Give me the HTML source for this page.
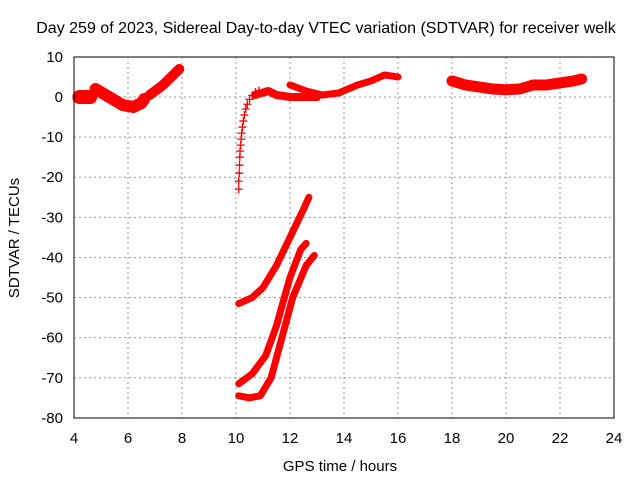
<!DOCTYPE html>
<html><head><meta charset="utf-8"><style>
body{margin:0;background:#fff;}
svg text{font-family:"Liberation Sans",sans-serif;font-size:15px;fill:#000;}
</style></head><body>
<svg id="c" width="640" height="480">
<text x="326" y="33" text-anchor="middle" style="font-size:16px">Day 259 of 2023, Sidereal Day-to-day VTEC variation (SDTVAR) for receiver welk</text>
<text x="340" y="471" text-anchor="middle">GPS time / hours</text>
<text transform="translate(19,238) rotate(-90)" text-anchor="middle">SDTVAR / TECUs</text>
<g id="grid"></g><g id="marks"></g>
<rect x="74" y="57" width="540" height="361" fill="none" stroke="#000"/>
</svg>
<script>
const xTicks=[4,6,8,10,12,14,16,18,20,22,24];
const yTicks=[10,0,-10,-20,-30,-40,-50,-60,-70,-80];
const seg1=[[4.2,0],[4.6,0]];
const seg2=[[4.8,2],[5.3,0],[5.8,-2],[6.2,-2.5],[6.5,-1.5],[6.6,-0.5]];
const seg3=[[6.8,0.5],[7.3,3],[7.9,7]];
const seg5=[[10.7,0.5],[11.2,1.5],[11.5,0.5],[12,0],[12.5,0],[13,0]];
const seg6=[[12,3],[12.6,1.5],[13.2,0.5],[13.8,1],[14.5,3],[15,4],[15.5,5.5],[16,5]];
const seg7=[[18,4],[18.5,3],[19,2.5],[19.5,2],[20,1.8],[20.5,2],[21,3],[21.5,3],[22,3.5],[22.5,4],[22.8,4.5]];
const low1=[[10.1,-51.5],[10.6,-50],[11,-47.5],[11.5,-42],[12,-35],[12.5,-28],[12.7,-25]];
const low2=[[10.1,-71.5],[10.6,-69],[11.1,-64.5],[11.5,-57],[12,-45],[12.4,-38],[12.6,-36.5]];
const low3=[[10.1,-74.5],[10.5,-75],[10.9,-74.5],[11.3,-70],[11.7,-60],[12.1,-50],[12.6,-42],[12.9,-39.5]];
const plusPts=[[10.1,-23],[10.1,-21],[10.12,-19],[10.13,-17],[10.14,-15],[10.15,-13.5],[10.17,-12],[10.19,-10.5],[10.21,-9],[10.24,-7.5],[10.27,-6],[10.31,-4.5],[10.36,-3],[10.42,-1.8],[10.5,-0.6],[10.6,0.4],[10.72,1.2],[10.85,1.6]];
const X=v=>74+(v-4)*27, Y=v=>97-v*4.011;
const NS="http://www.w3.org/2000/svg";
const g=document.getElementById('grid'), m=document.getElementById('marks');
function el(t,a,p){const e=document.createElementNS(NS,t);for(const k in a)e.setAttribute(k,a[k]);p.appendChild(e);return e;}
xTicks.forEach(t=>{
 if(t>4&&t<24){const l=el('line',{x1:X(t),x2:X(t),y1:57,y2:418,stroke:'#999','stroke-dasharray':'2,3'},g);
 
 }
 const tx=el('text',{x:X(t),y:443,'text-anchor':'middle'},g);tx.textContent=t;
 
 
});
yTicks.forEach(t=>{
 if(t<10&&t>-80){const l=el('line',{x1:74,x2:614,y1:Y(t),y2:Y(t),stroke:'#999','stroke-dasharray':'2,3'},g);
 
 }
 const tx=el('text',{x:63,y:Y(t)+5,'text-anchor':'end'},g);tx.textContent=t;
 
 
});
const segs=[[seg1,14],[seg2,12],[seg3,10],[seg5,8],[seg6,7],[seg7,11],[low1,7],[low2,7],[low3,7]];
segs.forEach(([s,w])=>{
 const p=el('polyline',{points:s.map(d=>X(d[0])+','+Y(d[1])).join(' '),fill:'none',stroke:'#f00','stroke-width':w,'stroke-linejoin':'round','stroke-linecap':'round'},m);
 
 
});
plusPts.forEach(d=>{
 const x=X(d[0]),y=Y(d[1]);
 const p=el('path',{d:`M${x-4},${y}H${x+4}M${x},${y-4}V${y+4}`,stroke:'#f00','stroke-width':1.3},m);
 
 
});
</script>
</body></html>
